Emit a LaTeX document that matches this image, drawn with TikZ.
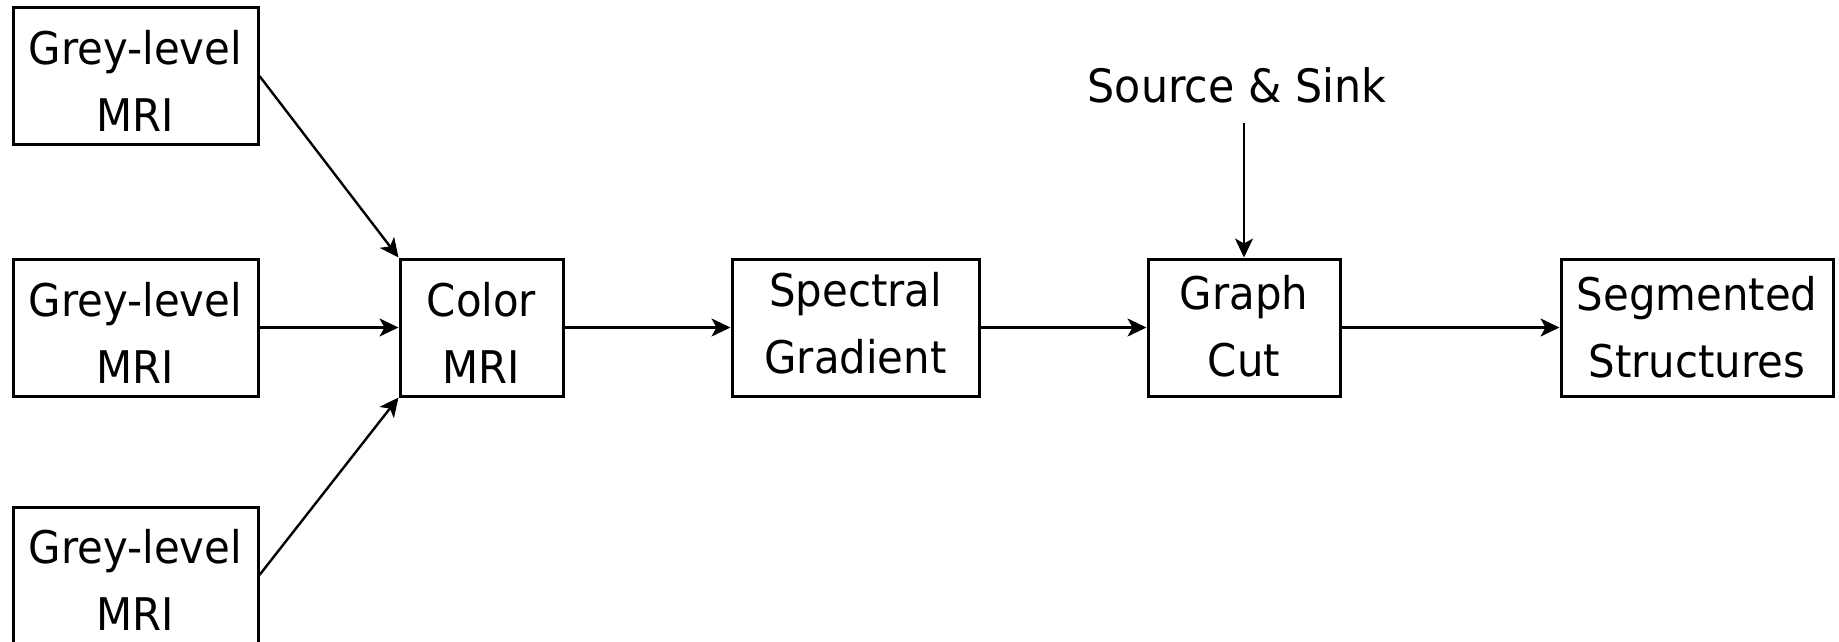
\documentclass[tikz,border=0pt]{standalone}
\usepackage{fontspec}
\setmainfont{DejaVu Sans}[FakeStretch=0.93]
\usetikzlibrary{arrows.meta}
\newcommand\topstrut{\rule{0pt}{44pt}}
\newcommand\botstrut[1]{\rule[-#1pt]{0pt}{#1pt}}
\tikzset{
  blk/.style={draw=black, line width=3pt, inner sep=0pt, align=center,
    font=\fontsize{45}{67}\selectfont},
  conn/.style={draw=black, line width=2.4pt,
    -{Stealth[length=19pt, width=18pt, inset=5pt]}},
}
\begin{document}
\begin{tikzpicture}[x=1pt,y=-1pt]
\useasboundingbox (0,0) rectangle (1839,642);
\node[blk, minimum width=245pt, minimum height=136pt] (g1) at (135.5,76) {\topstrut Grey-level\\MRI};
\node[blk, minimum width=245pt, minimum height=137pt] (g2) at (135.5,327.5) {\topstrut Grey-level\\MRI};
\node[blk, minimum width=245pt, minimum height=136pt] (g3) at (135.5,575) {\topstrut Grey-level\\MRI};
\node[blk, minimum width=163pt, minimum height=137pt] (color) at (481.5,327.5) {\topstrut Color\\MRI};
\node[blk, minimum width=247pt, minimum height=137pt] (spec) at (855.5,327.5) {Spectral\\Gradient\botstrut{10}};
\node[blk, minimum width=192pt, minimum height=137pt] (graph) at (1244,327.5) {Graph\\Cut\botstrut{4}};
\node[blk, minimum width=272pt, minimum height=137pt] (seg) at (1697,327.5) {Segmented\\Structures};
\node[anchor=base, inner xsep=0pt, inner ysep=0pt, text depth=0pt,
  font=\fontsize{46}{54}\selectfont] (src) at (1237,102) {Source \& Sink};
\path[conn] (g1.east) -- (color.north west);
\path[conn] (g2.east) -- (color.west);
\path[conn] (g3.east) -- (color.south west);
\path[conn] (color.east) -- (spec.west);
\path[conn] (spec.east) -- (graph.west);
\path[conn] (graph.east) -- (seg.west);
\path[conn] ([yshift=-21pt]src.south -| graph.north) -- (graph.north);
\end{tikzpicture}
\end{document}
